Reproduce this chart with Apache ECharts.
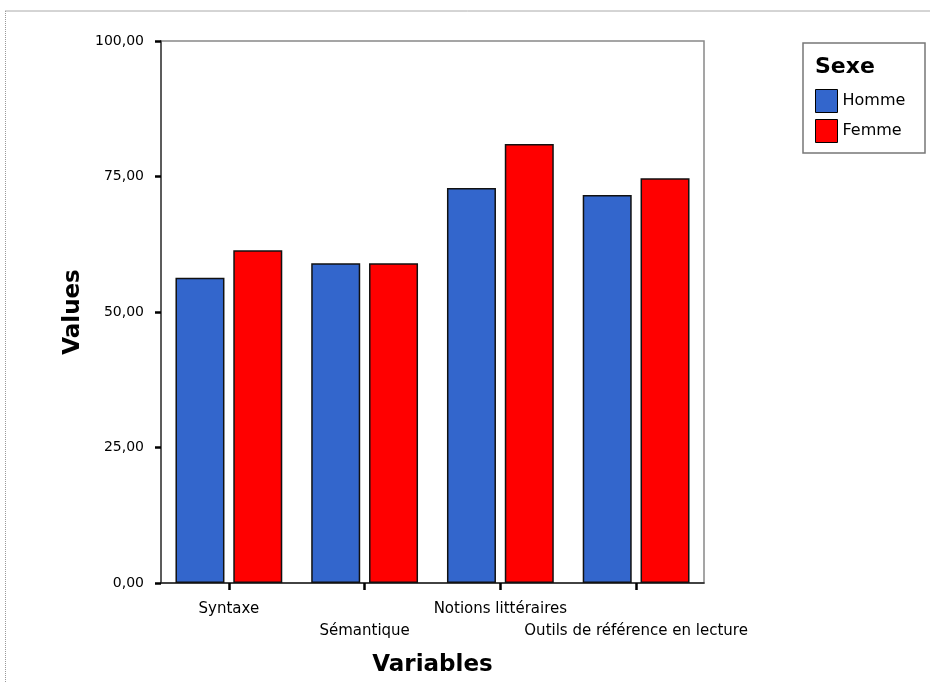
<!DOCTYPE html>
<html><head><meta charset="utf-8">
<script src="https://cdn.jsdelivr.net/npm/echarts@6/dist/echarts.min.js"></script>
<style>html,body{margin:0;padding:0;background:#fff}#c{width:930px;height:683px}</style>
</head><body><div id="c"></div>
<script>
const categories = ['Syntaxe', 'Sémantique', 'Notions littéraires', 'Outils de référence en lecture'];
const homme = [56.3, 59.0, 72.9, 71.6];
const femme = [61.4, 59.0, 81.0, 74.7];
const yTicks = [0, 25, 50, 75, 100];
const seriesNames = ['Homme', 'Femme'];
const legendTitle = 'Sexe';
const xName = 'Variables';
const yName = 'Values';

const chart = echarts.init(document.getElementById('c'), null, {renderer: 'canvas'});
const font = 'DejaVu Sans';
chart.setOption({
  animation: false,
  backgroundColor: '#fff',
  grid: {left: 161, right: 226, top: 41, bottom: 100, show: true, borderColor: '#888', borderWidth: 1.5},
  legend: {
    orient: 'vertical', left: 810, top: 84, itemWidth: 22, itemHeight: 23, itemGap: 6,
    icon: 'rect', data: seriesNames,
    itemStyle: {borderColor: '#000', borderWidth: 1},
    textStyle: {fontFamily: font, fontSize: 16, color: '#000', padding: [0, 0, 0, 0]}
  },
  xAxis: {
    type: 'category', data: categories,
    name: xName, nameLocation: 'middle', nameGap: 71,
    nameTextStyle: {fontFamily: font, fontSize: 23, fontWeight: 'bold', color: '#000'},
    axisLine: {show: true, lineStyle: {color: '#222', width: 1.5}},
    axisTick: {show: true, alignWithLabel: true, length: 7, lineStyle: {color: '#000', width: 2.5}},
    axisLabel: {
      interval: 0, margin: 15, fontFamily: font, fontSize: 15, color: '#000', lineHeight: 22,
      formatter: (v, i) => (i % 2 === 1 ? '\n' + v : v)
    }
  },
  yAxis: {
    type: 'value', min: yTicks[0], max: yTicks[yTicks.length - 1], interval: 25,
    name: yName, nameLocation: 'middle', nameGap: 76,
    nameTextStyle: {fontFamily: font, fontSize: 23, fontWeight: 'bold', color: '#000'},
    axisLine: {show: true, lineStyle: {color: '#444', width: 1.5}},
    axisTick: {show: true, length: 6, lineStyle: {color: '#000', width: 2.5}},
    splitLine: {show: false},
    axisLabel: {margin: 17, fontFamily: font, fontSize: 14, color: '#000',
      formatter: v => v.toFixed(2).replace('.', ',')}
  },
  series: [
    {name: seriesNames[0], type: 'bar', data: homme, barWidth: 49, barGap: '18%',
      itemStyle: {color: '#3366cc', borderColor: '#111', borderWidth: 1.5}},
    {name: seriesNames[1], type: 'bar', data: femme, barWidth: 49, barGap: '18%',
      itemStyle: {color: '#ff0000', borderColor: '#111', borderWidth: 1.5}}
  ],
  graphic: [
    {type: 'line', shape: {x1: 5, y1: 11, x2: 930, y2: 11}, style: {stroke: '#aaa', lineWidth: 1}},
    {type: 'line', shape: {x1: 5.5, y1: 11, x2: 5.5, y2: 683}, style: {stroke: '#999', lineWidth: 1, lineDash: [1, 1]}},
    {type: 'rect', shape: {x: 803, y: 43, width: 122, height: 110}, style: {fill: 'none', stroke: '#777', lineWidth: 1.5}},
    {type: 'text', left: 815, top: 56, style: {text: legendTitle, font: 'bold 22px "DejaVu Sans"', fill: '#000'}}
  ]
});
</script></body></html>
